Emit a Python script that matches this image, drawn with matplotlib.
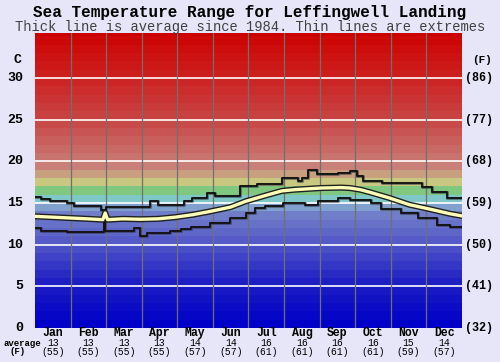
"""Sea temperature range chart for Leffingwell Landing."""
import matplotlib
matplotlib.use('Agg')
import matplotlib.pyplot as plt
import matplotlib.patheffects as pe
import matplotlib.transforms as mtransforms
import numpy as np

# Data (day of year, deg C)
months = ['Jan', 'Feb', 'Mar', 'Apr', 'May', 'Jun', 'Jul', 'Aug', 'Sep', 'Oct', 'Nov', 'Dec']
month_avg_c = [13, 13, 13, 13, 14, 14, 16, 16, 16, 16, 15, 14]
month_avg_f = [55, 55, 55, 55, 57, 57, 61, 61, 61, 61, 59, 57]

avg_days = [0, 15, 30, 45, 58, 60, 62, 75, 90, 105, 120, 135, 150, 167, 180, 197,
            211, 222, 245, 262, 269, 278, 286, 303, 320, 338, 355, 365]
avg_temp = [13.4, 13.3, 13.2, 13.1, 13.0, 13.8, 13.0, 13.1, 13.05, 13.1, 13.3, 13.6,
            14.0, 14.5, 15.2, 15.9, 16.45, 16.6, 16.8, 16.85, 16.8, 16.6, 16.3, 15.6,
            14.8, 14.25, 13.7, 13.45]

max_days = [0, 5, 13, 27, 33, 56, 61, 98, 105, 127, 134, 147, 154, 175, 190, 211,
            225, 228, 233, 241, 259, 269, 275, 280, 297, 331, 339, 352, 365]
max_temp = [15.7, 15.45, 15.3, 15.05, 14.7, 14.2, 14.5, 15.3, 14.8, 15.2, 15.55, 16.25,
            15.85, 17.05, 17.3, 18.0, 17.6, 18.0, 19.0, 18.45, 18.6, 18.8, 18.2, 17.65,
            17.35, 16.9, 16.3, 15.6, 15.6]

min_days = [0, 5, 27, 59, 60, 85, 90, 96, 115, 125, 133, 150, 167, 180, 188, 197,
            212, 231, 242, 259, 269, 287, 296, 313, 327, 344, 355, 365]
min_temp = [11.95, 11.7, 11.55, 13.8, 11.7, 11.95, 11.05, 11.45, 11.7, 11.9, 12.15,
            12.55, 13.15, 13.75, 14.4, 14.6, 15.0, 14.8, 15.2, 15.55, 15.35, 15.0,
            14.3, 13.75, 13.15, 12.35, 12.15, 12.15]

c_ticks = [0, 5, 10, 15, 20, 25, 30]

# Colour bands, one per degree
anchors_t = [0, 5, 10, 13, 14, 15, 16, 17, 18, 19, 20, 25, 30, 35]
anchors_rgb = [(0, 0, 200), (30, 30, 195), (85, 90, 200), (112, 125, 200), (128, 160, 205),
               (128, 200, 200), (128, 200, 128), (200, 200, 128), (200, 160, 128),
               (200, 128, 120), (200, 115, 110), (200, 65, 65), (205, 30, 30), (205, 0, 0)]

bg = '#e6e6f8'
plt.rcParams['font.family'] = 'Liberation Mono'

fig = plt.figure(figsize=(5, 3.62), dpi=100, facecolor=bg)
ax = fig.add_axes([35 / 500, 1 - 328 / 362, 427 / 500, 295 / 362])
ymax = 35.4

arr_t = np.array(anchors_t)
arr_c = np.array(anchors_rgb) / 255
for t in range(36):
    col = [np.interp(t, arr_t, arr_c[:, k]) for k in range(3)]
    ax.axhspan(t, t + 1, color=col, lw=0)

for t in c_ticks[1:]:
    ax.axhline(t, color='white', lw=1.2)
for i in range(1, 12):
    ax.axvline(i * 365 / 12, color='#707070', lw=0.9)

edge = [pe.Stroke(linewidth=2.2, foreground='#303040', alpha=0.5), pe.Normal()]
ax.step(max_days, max_temp, where='post', color='#101010', lw=1.3, path_effects=edge)
ax.step(min_days, min_temp, where='post', color='#101010', lw=1.3, path_effects=edge)
ax.plot(avg_days, avg_temp, color='#ffffb8', lw=2.4,
        path_effects=[pe.Stroke(linewidth=4.4, foreground='#202020'), pe.Normal()])

ax.set_xlim(0, 365)
ax.set_ylim(0, ymax)
ax.set_xticks([])
ax.set_yticks([])
for s in ax.spines.values():
    s.set_visible(False)

# Axis labels, placed in figure pixels horizontally
ytrans = mtransforms.blended_transform_factory(fig.transFigure, ax.transData)
for t in c_ticks:
    ax.text(23 / 500, t, str(t), transform=ytrans, ha='right', va='center',
            fontsize=9.5, fontweight='bold')
    ax.text(465 / 500, t, f'({round(t * 9 / 5 + 32)})', transform=ytrans,
            ha='left', va='center', fontsize=8.5, fontweight='bold')
ax.text(18 / 500, 32.2, 'C', transform=ytrans, ha='center', va='center',
        fontsize=9.5, fontweight='bold')
ax.text(482 / 500, 32.2, '(F)', transform=ytrans, ha='center', va='center',
        fontsize=8, fontweight='bold')

trans = mtransforms.blended_transform_factory(ax.transData, fig.transFigure)
for i, m in enumerate(months):
    xc = (i + 0.5) * 365 / 12
    ax.text(xc, 1 - 333 / 362, m, transform=trans, ha='center', va='center',
            fontsize=8.3, fontweight='bold')
    ax.text(xc, 1 - 343 / 362, str(month_avg_c[i]), transform=trans, ha='center',
            va='center', fontsize=7)
    ax.text(xc, 1 - 352 / 362, f'({month_avg_f[i]})', transform=trans, ha='center',
            va='center', fontsize=7)
fig.text(22 / 500, 1 - 343 / 362, 'average', ha='center', va='center', fontsize=6.5,
         fontweight='bold')
fig.text(18 / 500, 1 - 352 / 362, '(F)', ha='center', va='center', fontsize=6.5,
         fontweight='bold')

fig.text(0.5, 1 - 12 / 362, 'Sea Temperature Range for Leffingwell Landing',
         ha='center', va='center', fontsize=11.5, fontweight='bold')
fig.text(0.5, 1 - 27 / 362, 'Thick line is average since 1984. Thin lines are extremes',
         ha='center', va='center', fontsize=9.9, color='#404040')

plt.savefig('out.png', dpi=100, facecolor=bg)
